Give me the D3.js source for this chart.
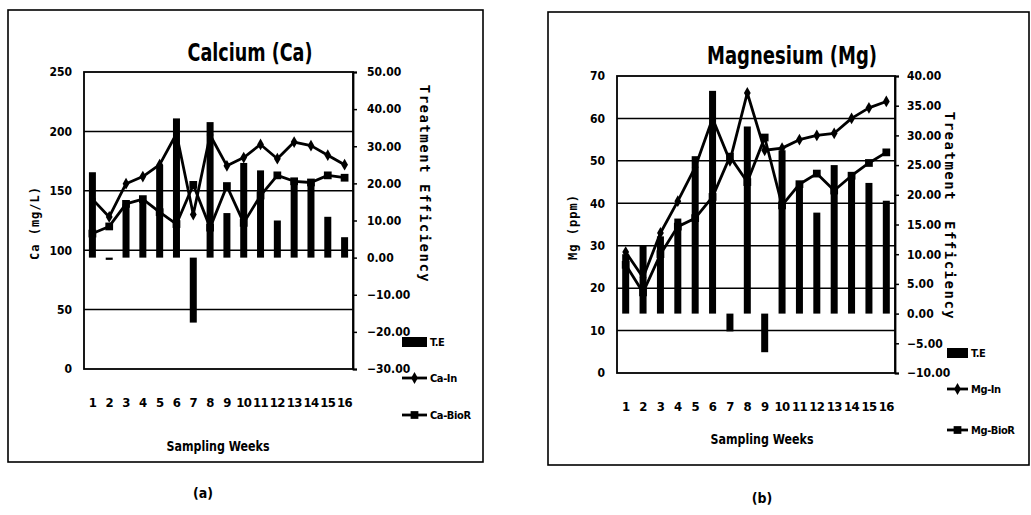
<!DOCTYPE html>
<html>
<head>
<meta charset="utf-8">
<script src="https://cdn.jsdelivr.net/npm/d3@7/dist/d3.min.js"></script>
<style>
  html, body { margin: 0; padding: 0; background: #fff; }
  svg { display: block; }
  .narrow { font-family: "DejaVu Sans Condensed", "Liberation Sans Narrow", "Arial Narrow", "Liberation Sans", Arial, sans-serif; font-weight: bold; }
  .mono { font-family: "DejaVu Sans Mono", "Liberation Mono", monospace; font-weight: bold; }
</style>
</head>
<body>
<svg id="chart" width="1031" height="515"></svg>
<script>
// Sampling weeks shared by both panels
const weeks = [1, 2, 3, 4, 5, 6, 7, 8, 9, 10, 11, 12, 13, 14, 15, 16];

// Calcium: treatment efficiency (%), inlet and bioreactor concentrations (mg/L)
const caTE   = [23, -0.6, 14.5, 15.5, 25, 37.5, -17.5, 36.5, 12, 25.5, 23.5, 10, 20.5, 20, 11, 5.5];
const caIn   = [143, 128, 156, 162, 172, 198, 130, 197, 171, 178, 189, 177, 191, 188, 180, 172];
const caBioR = [114, 120, 139, 143, 132, 122, 155, 119, 154, 123, 146, 163, 158, 157, 163, 161];

// Magnesium: treatment efficiency (%), inlet and bioreactor concentrations (ppm)
const mgTE   = [10, 11.5, 13, 16, 26.5, 37.5, -3, 31.5, -6.5, 27.5, 22, 17, 25, 23.5, 22, 19];
const mgIn   = [28.5, 22.5, 33, 40.5, 48.5, 60, 50, 66, 52.5, 53, 55, 56, 56.5, 60, 62.5, 64];
const mgBioR = [25.5, 19, 28, 34.5, 36.5, 41.5, 51, 45, 55.5, 39.5, 44.5, 47, 43, 46.5, 49.5, 52];

// Axis tick values
const caTicks   = [0, 50, 100, 150, 200, 250];
const caTeTicks = [-30, -20, -10, 0, 10, 20, 30, 40, 50];
const mgTicks   = [0, 10, 20, 30, 40, 50, 60, 70];
const mgTeTicks = [-10, -5, 0, 5, 10, 15, 20, 25, 30, 35, 40];

const svg = d3.select("#chart");

function drawPanel(cfg) {
  const g = svg.append("g");
  const p = cfg.plot;

  // outer chart frame
  g.append("rect")
    .attr("x", cfg.frame[0]).attr("y", cfg.frame[1])
    .attr("width", cfg.frame[2] - cfg.frame[0]).attr("height", cfg.frame[3] - cfg.frame[1])
    .attr("fill", "none").attr("stroke", "#000").attr("stroke-width", 1.6);

  const x = d3.scaleBand().domain(weeks).range([p.left, p.right]).padding(0);
  const yL = d3.scaleLinear().domain(cfg.leftDomain).range([p.bottom, p.top]);
  const yR = d3.scaleLinear().domain(cfg.rightDomain).range([p.bottom, p.top]);

  // horizontal gridlines on the primary axis
  g.append("g").selectAll("line")
    .data(cfg.leftTicks.filter(t => t > cfg.leftDomain[0] && t < cfg.leftDomain[1]))
    .join("line")
    .attr("x1", p.left).attr("x2", p.right)
    .attr("y1", d => yL(d)).attr("y2", d => yL(d))
    .attr("stroke", "#000").attr("stroke-width", 1.5);

  // plot area border
  g.append("rect")
    .attr("x", p.left).attr("y", p.top)
    .attr("width", p.right - p.left).attr("height", p.bottom - p.top)
    .attr("fill", "none").attr("stroke", "#000").attr("stroke-width", 1.8);

  // treatment efficiency bars on the secondary axis
  const bw = 7;
  g.append("g").selectAll("rect")
    .data(weeks.map((w, i) => ({ w, v: cfg.te[i] })))
    .join("rect")
    .attr("x", d => x(d.w) + x.bandwidth() / 2 - bw / 2)
    .attr("width", bw)
    .attr("y", d => Math.min(yR(d.v), yR(0)))
    .attr("height", d => Math.abs(yR(d.v) - yR(0)))
    .attr("fill", "#000");

  // concentration lines
  const line = d3.line().x((d, i) => x(weeks[i]) + x.bandwidth() / 2).y(d => yL(d));
  [cfg.inlet, cfg.bior].forEach(s => {
    g.append("path").datum(s).attr("d", line)
      .attr("fill", "none").attr("stroke", "#000").attr("stroke-width", 2.8)
      .attr("stroke-linejoin", "round");
  });
  const diamond = d3.symbol().type(d3.symbolDiamond).size(40);
  const square = d3.symbol().type(d3.symbolSquare).size(60);
  g.append("g").selectAll("path").data(cfg.inlet).join("path")
    .attr("d", diamond)
    .attr("transform", (d, i) => `translate(${x(weeks[i]) + x.bandwidth() / 2},${yL(d)})`)
    .attr("fill", "#000");
  g.append("g").selectAll("path").data(cfg.bior).join("path")
    .attr("d", square)
    .attr("transform", (d, i) => `translate(${x(weeks[i]) + x.bandwidth() / 2},${yL(d)})`)
    .attr("fill", "#000");

  // left axis labels
  const axL = g.append("g").attr("transform", `translate(${p.left},0)`)
    .call(d3.axisLeft(yL).tickValues(cfg.leftTicks).tickSize(0).tickPadding(cfg.leftPad));
  axL.select(".domain").remove();
  axL.selectAll("text").attr("class", "narrow").attr("font-size", 12).attr("fill", "#000");

  // right axis with outward ticks
  const axR = g.append("g").attr("transform", `translate(${p.right},0)`)
    .call(d3.axisRight(yR).tickValues(cfg.rightTicks).tickSize(4).tickPadding(cfg.rightPad)
      .tickFormat(d3.format(".2f")));
  axR.select(".domain").attr("stroke", "#000").attr("stroke-width", 1.8);
  axR.selectAll("line").attr("stroke", "#000").attr("stroke-width", 1.5);
  axR.selectAll("text").attr("class", "narrow").attr("font-size", 12).attr("fill", "#000");

  // category labels well below the plot
  const axX = g.append("g").attr("transform", `translate(0,${p.bottom})`)
    .call(d3.axisBottom(x).tickSize(0).tickPadding(cfg.xPad));
  axX.select(".domain").remove();
  axX.selectAll("text").attr("class", "narrow").attr("font-size", 13)
    .attr("letter-spacing", -0.6).attr("fill", "#000");

  // titles
  g.append("text").attr("class", "narrow").attr("x", cfg.title[0]).attr("y", cfg.title[1])
    .attr("text-anchor", "middle").attr("font-size", 24)
    .attr("textLength", cfg.title[3]).attr("lengthAdjust", "spacingAndGlyphs").text(cfg.title[2]);
  g.append("text").attr("class", "narrow").attr("x", cfg.xTitle[0]).attr("y", cfg.xTitle[1])
    .attr("text-anchor", "middle").attr("font-size", 14)
    .attr("textLength", 103).attr("lengthAdjust", "spacingAndGlyphs").text("Sampling Weeks");
  g.append("text").attr("class", "mono")
    .attr("transform", `translate(${cfg.yTitle[0]},${cfg.yTitle[1]}) rotate(-90)`)
    .attr("text-anchor", "middle").attr("font-size", 12).attr("letter-spacing", 1)
    .attr("dominant-baseline", "central").attr("xml:space", "preserve").text(cfg.yTitle[2]);
  g.append("text").attr("class", "mono")
    .attr("transform", `translate(${cfg.rTitle[0]},${cfg.rTitle[1]}) rotate(90)`)
    .attr("text-anchor", "middle").attr("font-size", 14).attr("letter-spacing", cfg.rTitle[3])
    .attr("dominant-baseline", "central").attr("xml:space", "preserve").text(cfg.rTitle[2]);

  // legend
  const lg = cfg.legend;
  g.append("rect").attr("x", lg.x).attr("y", lg.y[0] - 5).attr("width", lg.w).attr("height", 10).attr("fill", "#000");
  [[lg.y[1], diamond], [lg.y[2], square]].forEach(([yy, sym]) => {
    g.append("line").attr("x1", lg.x).attr("x2", lg.x + lg.w).attr("y1", yy).attr("y2", yy)
      .attr("stroke", "#000").attr("stroke-width", 2.8);
    g.append("path").attr("d", sym).attr("transform", `translate(${lg.x + lg.w / 2},${yy})`).attr("fill", "#000");
  });
  lg.labels.forEach((t, i) => {
    g.append("text").attr("class", "narrow").attr("x", lg.x + lg.w + 3).attr("y", lg.y[i])
      .attr("dominant-baseline", "central").attr("font-size", 11).attr("letter-spacing", -0.4).text(t);
  });

  // panel caption
  g.append("text").attr("class", "narrow").attr("x", cfg.caption[0]).attr("y", cfg.caption[1])
    .attr("text-anchor", "middle").attr("font-size", 14).text(cfg.caption[2]);
}

drawPanel({
  frame: [8, 10, 483, 462],
  plot: { left: 84, right: 353, top: 72, bottom: 369 },
  leftDomain: [0, 250], leftTicks: caTicks,
  rightDomain: [-30, 50], rightTicks: caTeTicks,
  te: caTE, inlet: caIn, bior: caBioR,
  leftPad: 12, rightPad: 10, xPad: 29,
  title: [250, 61, "Calcium (Ca)", 125],
  xTitle: [218, 451],
  yTitle: [35, 223, "Ca (mg/L)"],
  rTitle: [425, 184, "Treatment Efficiency", 1.5],
  legend: { x: 402, w: 25, y: [342, 378, 415], labels: ["T.E", "Ca-In", "Ca-BioR"] },
  caption: [203, 498, "(a)"]
});

drawPanel({
  frame: [548, 12, 1029, 465],
  plot: { left: 617, right: 895, top: 76, bottom: 373 },
  leftDomain: [0, 70], leftTicks: mgTicks,
  rightDomain: [-10, 40], rightTicks: mgTeTicks,
  te: mgTE, inlet: mgIn, bior: mgBioR,
  leftPad: 12, rightPad: 8, xPad: 29,
  title: [792, 64, "Magnesium (Mg)", 170],
  xTitle: [762, 444],
  yTitle: [573, 227, "Mg (ppm)"],
  rTitle: [950, 216, "Treatment  Efficiency", 1.5],
  legend: { x: 947, w: 21, y: [353, 389, 430], labels: ["T.E", "Mg-In", "Mg-BioR"] },
  caption: [762, 503, "(b)"]
});
</script>
</body>
</html>
